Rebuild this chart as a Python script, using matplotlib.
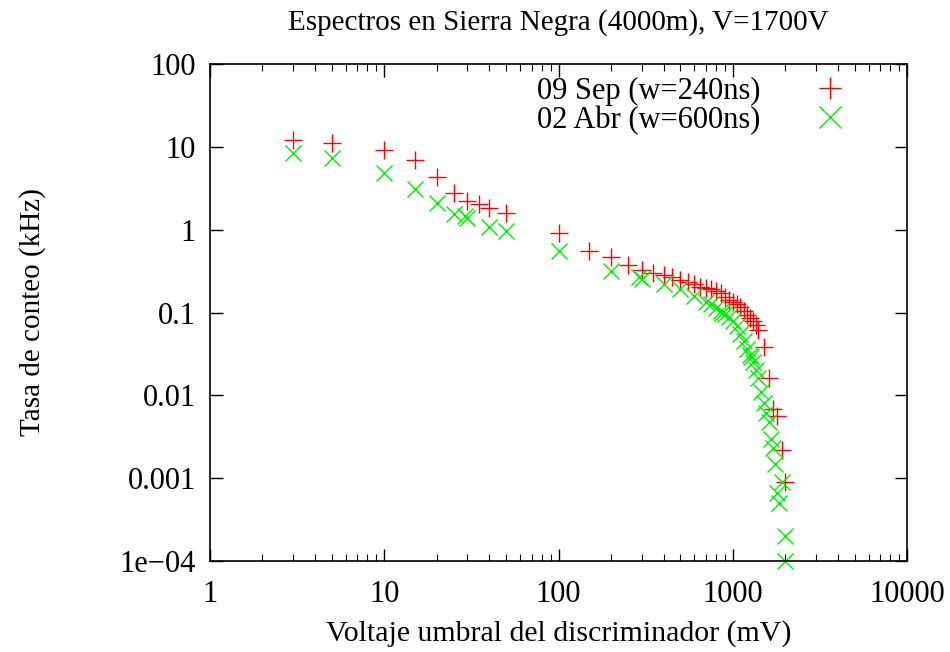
import matplotlib
matplotlib.use("Agg")
import matplotlib.pyplot as plt
from matplotlib.ticker import FixedLocator, FixedFormatter, LogLocator, NullFormatter

plt.rcParams['font.family'] = ['Liberation Serif', 'DejaVu Serif']

# 09 Sep (w=240ns)
sep_mv = [3, 5, 10, 15, 20, 25, 30, 35, 40, 50, 100, 150, 200, 250, 300, 350, 400,
          450, 500, 550, 600, 650, 700, 750, 800, 850, 900, 950, 1000, 1050, 1100,
          1150, 1200, 1250, 1300, 1350, 1400, 1500, 1600, 1700, 1800, 1900, 2000]
sep_khz = [12.1, 11.0, 9.1, 6.9, 4.3, 2.8, 2.25, 2.05, 1.85, 1.6, 0.92, 0.56, 0.47,
           0.37, 0.33, 0.30, 0.28, 0.265, 0.25, 0.235, 0.22, 0.205, 0.197, 0.19,
           0.18, 0.17, 0.155, 0.14, 0.135, 0.128, 0.115, 0.105, 0.093, 0.085, 0.078,
           0.071, 0.062, 0.038, 0.016, 0.0068, 0.0057, 0.0022, 0.0009]

# 02 Abr (w=600ns)
abr_mv = [3, 5, 10, 15, 20, 25, 29, 30, 40, 50, 100, 200, 290, 300, 400, 500, 600,
          700, 750, 800, 850, 870, 900, 950, 1000, 1050, 1100, 1150, 1200, 1250,
          1270, 1300, 1350, 1400, 1450, 1500, 1550, 1600, 1650, 1700, 1750, 1800,
          1850, 1900, 2000, 2000]
abr_khz = [8.4, 7.3, 4.9, 3.1, 2.1, 1.55, 1.45, 1.38, 1.07, 0.97, 0.56, 0.32, 0.265,
           0.255, 0.22, 0.19, 0.16, 0.135, 0.125, 0.112, 0.105, 0.1, 0.095, 0.088,
           0.08, 0.068, 0.055, 0.045, 0.036, 0.031, 0.029, 0.025, 0.02, 0.016,
           0.011, 0.008, 0.0062, 0.0048, 0.003, 0.0023, 0.0015, 0.00066, 0.0005,
           0.0009, 0.0002, 0.0001]

y_ticks = [1e-4, 1e-3, 1e-2, 1e-1, 1, 10, 100]
y_labels = ["1e\u221204", "0.001", "0.01", "0.1", "1", "10", "100"]
x_ticks = [1, 10, 100, 1000, 10000]
x_labels = ["1", "10", "100", "1000", "10000"]

fig = plt.figure(figsize=(9.5, 6.52), dpi=100)
ax = fig.add_axes([0.221, 0.1396, 0.734, 0.7622])

ax.plot(sep_mv, sep_khz, linestyle='none', marker='+', color='#ff0000',
        markersize=12.5, markeredgewidth=1.0, label='09 Sep (w=240ns)', clip_on=False)
ax.plot(abr_mv, abr_khz, linestyle='none', marker='x', color='#00ee00',
        markersize=12, markeredgewidth=1.0, label='02 Abr (w=600ns)', clip_on=False)

ax.set_xscale('log')
ax.set_yscale('log')
ax.set_xlim(1, 10000)
ax.set_ylim(1e-4, 100)

ax.xaxis.set_major_locator(FixedLocator(x_ticks))
ax.xaxis.set_major_formatter(FixedFormatter(x_labels))
ax.yaxis.set_major_locator(FixedLocator(y_ticks))
ax.yaxis.set_major_formatter(FixedFormatter(y_labels))
ax.xaxis.set_minor_locator(LogLocator(base=10, subs=range(2, 10), numticks=20))
ax.xaxis.set_minor_formatter(NullFormatter())
ax.yaxis.set_minor_locator(FixedLocator([]))

ax.tick_params(which='both', direction='in', top=True, right=True, labelsize=22)
ax.tick_params(axis='y', pad=10)
ax.tick_params(axis='x', pad=14)
ax.tick_params(which='major', length=9, width=1)
ax.tick_params(which='minor', length=5, width=0.8)
for s in ax.spines.values():
    s.set_linewidth(1.2)

ax.set_title('Espectros en Sierra Negra (4000m), V=1700V', fontsize=21, pad=25)
ax.set_xlabel('Voltaje umbral del discriminador (mV)', fontsize=21.5, labelpad=8)
ax.set_ylabel('Tasa de conteo (kHz)', fontsize=21, labelpad=53)

ax.legend(loc='upper right', bbox_to_anchor=(0.951, 1.018), frameon=False,
          markerfirst=False, fontsize=22, handletextpad=1.6, labelspacing=0.0,
          handlelength=1.4, borderaxespad=0.3, markerscale=1.3)

fig.savefig('out.png', dpi=100)
